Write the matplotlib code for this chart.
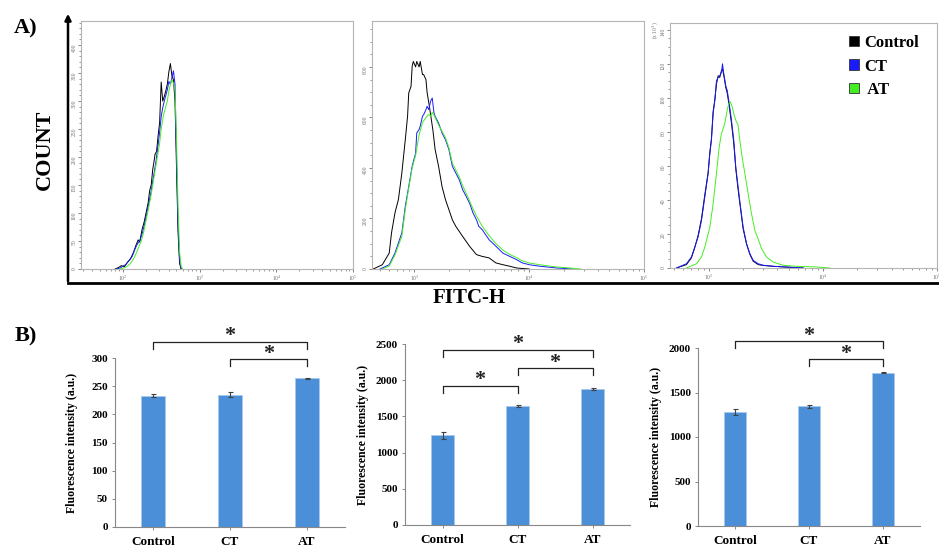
import numpy as np
import matplotlib.pyplot as plt
import matplotlib.transforms as mtransforms
from matplotlib.ticker import MultipleLocator, LogLocator, NullFormatter
from matplotlib.patches import Patch

plt.rcParams['font.family'] = ['Liberation Serif', 'DejaVu Serif']

groups = ['Control', 'CT', 'AT']
line_colors = ['black', '#1a1aff', '#44ee22']

# ---- A) flow cytometry histograms (x = log10 FITC-H, y = count) ----
p1_ctrl_x = [1.90, 1.95, 1.98, 2.02, 2.06, 2.10, 2.14, 2.17, 2.20, 2.22, 2.25, 2.28, 2.31, 2.33, 2.35, 2.37, 2.39, 2.41,
             2.42, 2.44, 2.46, 2.48, 2.50, 2.52, 2.54, 2.56, 2.58, 2.60, 2.62, 2.64, 2.66, 2.68, 2.70, 2.72, 2.74, 2.76]
p1_ctrl_y = [0, 3, 6, 4, 12, 18, 30, 42, 52, 48, 70, 85, 105, 118, 140, 150, 178, 195,
             205, 210, 238, 262, 334, 300, 308, 318, 330, 352, 367, 345, 338, 300, 180, 65, 10, 0]
p1_ct_x = [1.92, 1.97, 2.00, 2.04, 2.08, 2.12, 2.16, 2.19, 2.22, 2.25, 2.28, 2.31, 2.34, 2.37, 2.40, 2.43,
           2.46, 2.48, 2.50, 2.52, 2.54, 2.56, 2.58, 2.60, 2.62, 2.64, 2.66, 2.68, 2.70, 2.72, 2.74, 2.76]
p1_ct_y = [0, 2, 5, 8, 15, 22, 36, 45, 50, 62, 78, 98, 118, 140, 165, 190,
           222, 245, 272, 288, 300, 310, 320, 335, 330, 342, 354, 330, 200, 80, 15, 0]
p1_at_x = [1.96, 2.02, 2.06, 2.10, 2.14, 2.18, 2.21, 2.24, 2.27, 2.30, 2.33, 2.36, 2.39, 2.42, 2.45,
           2.48, 2.50, 2.53, 2.56, 2.58, 2.60, 2.62, 2.64, 2.66, 2.68, 2.70, 2.72, 2.74, 2.76, 2.78]
p1_at_y = [0, 2, 5, 10, 18, 30, 40, 50, 65, 85, 105, 125, 150, 175, 200,
           225, 250, 275, 290, 300, 318, 330, 338, 332, 320, 230, 110, 30, 5, 0]

p2_ctrl_x = [2.64, 2.66, 2.72, 2.78, 2.80, 2.83, 2.86, 2.89, 2.92, 2.94, 2.95, 2.97, 2.98, 2.99, 3.01, 3.02, 3.04, 3.05,
             3.07, 3.08, 3.10, 3.11, 3.13, 3.16, 3.18, 3.21, 3.24, 3.27, 3.30, 3.33, 3.36, 3.42, 3.48, 3.54, 3.59, 3.65,
             3.71, 3.77, 3.83, 3.89, 3.94, 4.00]
p2_ctrl_y = [0, 4, 17, 63, 143, 222, 275, 380, 512, 605, 697, 723, 803, 822, 800, 822, 800, 822,
             770, 770, 750, 700, 644, 552, 473, 407, 327, 275, 235, 195, 169, 129, 90, 57, 50, 44,
             24, 17, 11, 4, 2, 0]
p2_ct_x = [2.70, 2.78, 2.83, 2.89, 2.92, 2.95, 2.98, 3.01, 3.02, 3.04, 3.05, 3.07, 3.08, 3.10, 3.11, 3.125, 3.14, 3.155,
           3.17, 3.18, 3.21, 3.24, 3.27, 3.30, 3.33, 3.36, 3.39, 3.42, 3.45, 3.48, 3.51, 3.54, 3.56, 3.59, 3.65,
           3.71, 3.77, 3.83, 3.89, 3.94, 4.00, 4.09, 4.24, 4.38]
p2_ct_y = [0, 17, 63, 143, 248, 327, 407, 459, 539, 552, 565, 605, 611, 631, 644, 631, 664, 677,
           618, 605, 578, 539, 512, 473, 407, 380, 354, 314, 288, 261, 222, 195, 169, 156, 116,
           90, 63, 50, 37, 24, 17, 11, 4, 0]
p2_at_x = [2.72, 2.78, 2.83, 2.89, 2.92, 2.95, 2.98, 3.01, 3.04, 3.07, 3.10, 3.125, 3.14, 3.155, 3.17, 3.19, 3.21,
           3.24, 3.27, 3.30, 3.33, 3.36, 3.39, 3.42, 3.45, 3.48, 3.51, 3.54, 3.59, 3.65, 3.71, 3.77, 3.83, 3.89,
           3.94, 4.00, 4.09, 4.17, 4.24, 4.38, 4.45]
p2_at_y = [0, 12, 55, 130, 235, 320, 400, 450, 530, 580, 600, 612, 605, 620, 610, 590, 570,
           545, 520, 480, 420, 392, 365, 330, 300, 270, 238, 210, 170, 132, 100, 75, 58, 45,
           32, 24, 17, 12, 8, 3, 0]

p3_x = [2.716, 2.804, 2.848, 2.877, 2.906, 2.936, 2.965, 2.994, 3.009, 3.023, 3.038, 3.053, 3.067, 3.082, 3.096,
        3.111, 3.120, 3.132, 3.149, 3.161, 3.175, 3.199, 3.219, 3.237, 3.257, 3.278, 3.301, 3.331, 3.360, 3.389,
        3.433, 3.477, 3.564, 3.682, 3.827]
p3_ctrl_y = [0, 2, 6, 12, 19, 29, 43, 56, 68, 76, 92, 99, 108, 113, 112,
             116, 117, 113, 106, 103, 97, 85, 73, 58, 46, 35, 23, 14, 8, 4,
             2, 1.5, 1, 0.5, 0]
p3_ct_y = [0, 2.5, 6.5, 12.3, 18.2, 28, 41.7, 55.5, 67, 75, 90.7, 98.6, 110, 112, 113,
           115, 120, 114, 107, 104.5, 98.6, 86.8, 75, 59, 47.6, 35.9, 24, 14.3, 8.4, 4.5,
           2.5, 1.6, 1.0, 0.6, 0]
p3_at_x = [2.804, 2.892, 2.936, 2.965, 3.009, 3.038, 3.067, 3.091, 3.111, 3.140, 3.161, 3.175, 3.190, 3.205,
           3.219, 3.237, 3.257, 3.272, 3.292, 3.316, 3.345, 3.374, 3.404, 3.433, 3.462, 3.506, 3.564, 3.652,
           3.769, 3.945, 4.061]
p3_at_y = [0, 2.5, 6.5, 12.3, 24, 37.8, 55.5, 71, 79, 84.9, 92.7, 96.6, 97.6, 94.7,
           90.7, 86.8, 83.9, 75, 65.3, 55.5, 43.7, 32, 22, 17, 11.4, 6.5, 3.5, 1.6,
           1.0, 0.6, 0]

# ---- B) mean fluorescence intensity ----
mfi_1 = [233, 235, 264]
err_1 = [3, 5, 1]
mfi_2 = [1240, 1645, 1880]
err_2 = [50, 10, 10]
mfi_3 = [1285, 1345, 1720]
err_3 = [35, 15, 5]
sig_1 = [(0, 2), (1, 2)]
sig_2 = [(0, 2), (1, 2), (0, 1)]
sig_3 = [(0, 2), (1, 2)]

W, H = 939, 548


def box(x0, y0, x1, y1):
    return [x0 / W, 1 - y1 / H, (x1 - x0) / W, (y1 - y0) / H]


fig = plt.figure(figsize=(W / 100, H / 100), dpi=100)

# overlay for frame and panel letters (pixel coordinates)
ov = fig.add_axes([0, 0, 1, 1])
ov.set_xlim(0, W)
ov.set_ylim(H, 0)
ov.axis('off')
ov.plot([68, W], [283, 283], color='black', lw=2)
ov.annotate('', xy=(68, 11), xytext=(68, 284),
            arrowprops=dict(arrowstyle='-|>', lw=1.8, color='black', mutation_scale=9))
ov.text(26, 28, 'A)', fontsize=16, fontweight='bold', ha='center', va='center')
ov.text(26, 336, 'B)', fontsize=16, fontweight='bold', ha='center', va='center')
ov.text(45, 150, 'COUNT', fontsize=16, fontweight='bold', rotation=90, ha='center', va='center')
ov.text(469, 298, 'FITC-H', fontsize=15, fontweight='bold', ha='center', va='center')

hist_specs = [
    (box(81, 21, 353, 269), [(p1_ctrl_x, p1_ctrl_y), (p1_ct_x, p1_ct_y), (p1_at_x, p1_at_y)],
     1.455, 443, 50, 10),
    (box(372, 21, 644, 269), [(p2_ctrl_x, p2_ctrl_y), (p2_ct_x, p2_ct_y), (p2_at_x, p2_at_y)],
     2.63, 982, 200, 50),
    (box(670, 23, 937, 268), [(p3_x, p3_ctrl_y), (p3_x, p3_ct_y), (p3_at_x, p3_at_y)],
     2.66, 144, 20, 5),
]

for pos, curves, xlo, ytop, ymaj, ymin in hist_specs:
    ax = fig.add_axes(pos)
    for (xs, ys), c in zip(curves, line_colors):
        ax.plot(10 ** np.array(xs), ys, color=c, lw=0.7)
    ax.set_xscale('log')
    ax.set_xlim(10 ** xlo, 1e5)
    ax.set_ylim(0, ytop)
    ax.xaxis.set_minor_locator(LogLocator(subs=np.arange(2, 10)))
    ax.xaxis.set_minor_formatter(NullFormatter())
    ax.yaxis.set_major_locator(MultipleLocator(ymaj))
    ax.yaxis.set_minor_locator(MultipleLocator(ymin))
    for s in ax.spines.values():
        s.set_color('#b5b5b5')
        s.set_linewidth(0.8)
    ax.tick_params(which='both', direction='out', colors='#707070', labelsize=4, pad=1)
    ax.tick_params(which='major', length=2.2, width=0.6)
    ax.tick_params(which='minor', length=1.2, width=0.5)
    ax.tick_params(axis='y', labelrotation=90)
    ax.tick_params(axis='x', labelcolor='#707070')

ov.text(655, 30, r'(x 10$^1$)', fontsize=4, color='#707070', rotation=90, ha='center', va='center')

fig.legend(handles=[Patch(facecolor=c, edgecolor='#333333', lw=0.6) for c in line_colors],
           labels=['Control', 'CT', ' AT'], loc='upper left', bbox_to_anchor=(834 / W, 1 - 20 / H),
           frameon=False, handlelength=0.6, handleheight=0.6, handletextpad=0.3, labelspacing=0.45,
           prop=dict(family='Liberation Serif', weight='bold', size=12))

# ---- bar charts ----
bar_specs = [
    (box(115, 358, 345, 527), mfi_1, err_1, 300, 50, sig_1, [1.095, 0.994]),
    (box(405, 344, 630, 525), mfi_2, err_2, 2500, 500, sig_2, [0.967, 0.867, 0.768]),
    (box(698, 348, 920, 526), mfi_3, err_3, 2000, 500, sig_3, [1.039, 0.938]),
]

x = np.arange(len(groups))
for pos, vals, errs, ytop, step, sig, levels in bar_specs:
    ax = fig.add_axes(pos)
    ax.bar(x, vals, width=0.31, color='#4a8fd8', edgecolor='#a8c8ec', lw=0.6,
           yerr=errs, error_kw=dict(ecolor='#404040', elinewidth=0.8, capsize=1.8, capthick=0.8))
    ax.set_xlim(-0.5, 2.5)
    ax.set_ylim(0, ytop)
    ax.set_yticks(np.arange(0, ytop + 1, step))
    ax.set_xticks(x)
    ax.set_xticklabels(groups)
    for s in ['top', 'right']:
        ax.spines[s].set_visible(False)
    for s in ['left', 'bottom']:
        ax.spines[s].set_color('#888888')
        ax.spines[s].set_linewidth(0.8)
    ax.tick_params(axis='y', length=2.5, width=0.7, color='#888888', labelsize=8, pad=2.5)
    ax.tick_params(axis='x', length=2.5, width=0.7, color='#888888', labelsize=9.5, pad=4)
    for lab in ax.get_xticklabels() + ax.get_yticklabels():
        lab.set_fontweight('bold')
    ax.set_ylabel('Fluorescence intensity (a.u.)', fontsize=8.5, fontweight='bold')
    ax.yaxis.set_label_coords(-0.16, 0.5)
    trans = mtransforms.blended_transform_factory(ax.transData, ax.transAxes)
    for (i, j), lv in zip(sig, levels):
        ax.plot([i, i, j, j], [lv - 0.041, lv, lv, lv - 0.041], transform=trans,
                color='#222222', lw=0.9, clip_on=False)
        ax.text((i + j) / 2, lv + 0.003, '*', transform=trans, ha='center', va='baseline',
                fontsize=16, fontweight='bold', color='#222222')

plt.savefig('out.png', dpi=100)
